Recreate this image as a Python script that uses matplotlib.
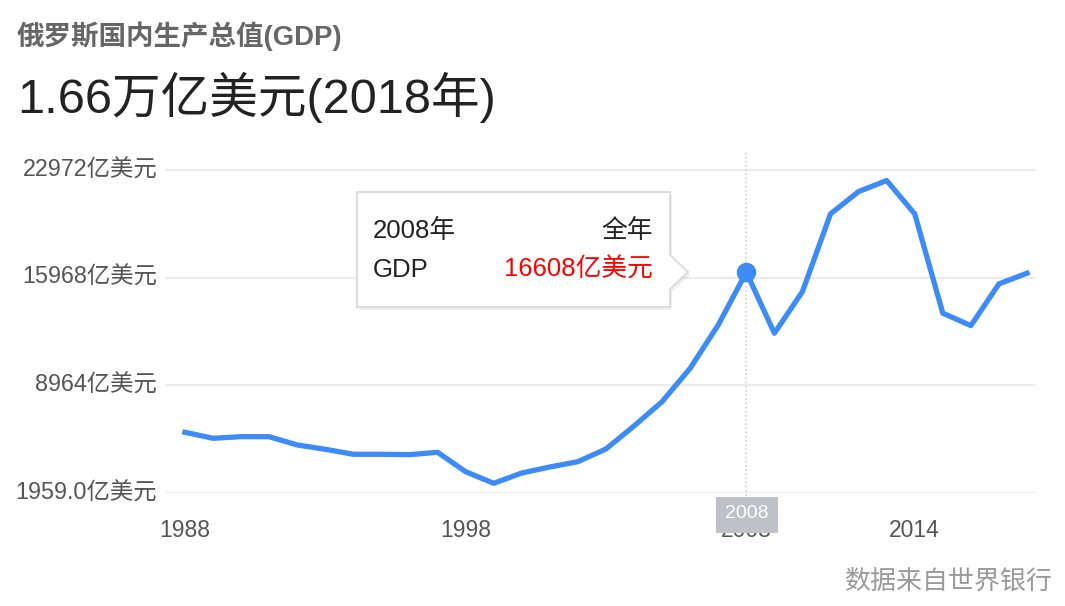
import matplotlib
matplotlib.use("Agg")
import matplotlib.pyplot as plt
from matplotlib.patches import Polygon, Rectangle

plt.rcParams['font.family'] = ['Liberation Sans', 'Noto Sans CJK SC', 'DejaVu Sans']

# data (亿美元)
years = list(range(1988, 2019))
gdp = [5894, 5503, 5607, 5607, 5067, 4786, 4461, 4461, 4435, 4591,
       3327, 2571, 3242, 3633, 3979, 4806, 6304, 7888, 10064, 12885,
       16318, 12344, 15054, 20116, 21569, 22286, 20116, 13647, 12839, 15556,
       16253]
y_ticks = [1959.0, 8964, 15968, 22972]
y_labels = ['1959.0亿美元', '8964亿美元', '15968亿美元', '22972亿美元']
x_ticks = [1988, 1998, 2008, 2014]
hl_year = 2008
hl_value = 16608

W, H = 1065, 606
fig = plt.figure(figsize=(W / 100, H / 100), dpi=100)

def fx(px):
    return px / W

def fy(py):
    return 1 - py / H

ax = fig.add_axes([fx(165), fy(492.7), fx(1036) - fx(165), fy(150) - fy(492.7)])
ax.set_xlim(1987.29, 2018.32)
ax.set_ylim(1959, 24275)

for t in y_ticks:
    ax.axhline(t, color='#ececec', lw=1.6, zorder=1)

ax.axvline(hl_year, ymin=-0.02, ymax=1, color='#cfcfcf', lw=1.2, ls=(0, (1, 1.5)), zorder=2, clip_on=False)

ax.plot(years, gdp, color='#3d8bf7', lw=3.8, solid_joinstyle='round', zorder=3)
ax.plot([hl_year], [gdp[years.index(hl_year)]], 'o', color='#3d8bf7', ms=13, zorder=4)

for s in ax.spines.values():
    s.set_visible(False)
ax.set_xticks([])
ax.set_yticks([])

for t, lab in zip(y_ticks, y_labels):
    ax.text(-0.009, t, lab, transform=ax.get_yaxis_transform(), ha='right', va='center',
            fontsize=16.8, color='#555555')
for yr in x_ticks:
    ax.text(yr, -0.11, str(yr), transform=ax.get_xaxis_transform(), ha='center', va='center',
            fontsize=16.5, color='#555555')

# highlighted year box on the axis
fig.patches.append(Rectangle((fx(716), fy(533)), fx(778) - fx(716), fy(497) - fy(533),
                             transform=fig.transFigure, facecolor='#bfc1c6', edgecolor='none', zorder=5))
fig.text(fx(747), fy(514), str(hl_year), ha='center', va='center', fontsize=14, color='white', zorder=6)

# tooltip
box = [(357, 192), (670, 192), (670, 255), (688, 272), (670, 289), (670, 307), (357, 307)]
shadow = Polygon([(fx(x + 2), fy(y + 3)) for x, y in box], closed=True, transform=fig.transFigure,
                 facecolor='#000000', alpha=0.06, edgecolor='none', zorder=6)
tip = Polygon([(fx(x), fy(y)) for x, y in box], closed=True, transform=fig.transFigure,
              facecolor='white', edgecolor='#dddddd', lw=1.5, zorder=7)
fig.patches.append(shadow)
fig.patches.append(tip)
tt = dict(fontsize=18.5, va='center', zorder=8)
fig.text(fx(373), fy(231), f'{hl_year}年', ha='left', color='#222222', **tt)
fig.text(fx(653), fy(231), '全年', ha='right', color='#222222', **tt)
fig.text(fx(373), fy(270), 'GDP', ha='left', color='#222222', **tt)
fig.text(fx(653), fy(270), f'{hl_value}亿美元', ha='right', color='#ff0000', **tt)

# headings
fig.text(fx(17), fy(36), '俄罗斯国内生产总值(GDP)', ha='left', va='center', fontsize=19.8,
         fontweight='bold', color='#666666')
fig.text(fx(17), fy(97), '1.66万亿美元(2018年)', ha='left', va='center', fontsize=35, color='#222222')
fig.text(fx(1052), fy(582), '数据来自世界银行', ha='right', va='center', fontsize=18.7, color='#999999')

fig.savefig('out.png', dpi=100)
